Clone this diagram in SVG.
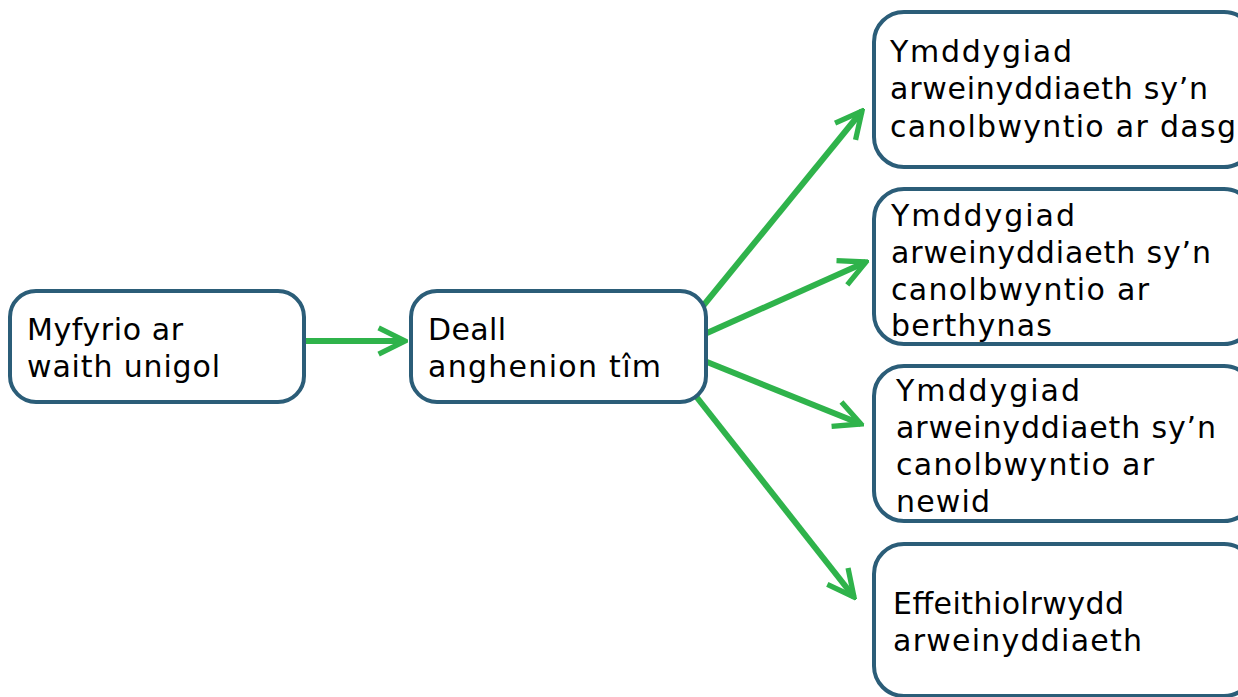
<svg xmlns="http://www.w3.org/2000/svg" width="1238" height="697" viewBox="0 0 1238 697">
<style>
.box{fill:#ffffff;stroke:#2b5d78;stroke-width:4}
.t{font-family:"DejaVu Sans","Liberation Sans",sans-serif;font-size:30px;fill:#000}
.c{stroke:#2fb34b;stroke-width:6;fill:none}
</style>
<defs>
<marker id="arr" viewBox="0 0 10 10" refX="9" refY="5" markerWidth="5.5" markerHeight="5.5" markerUnits="strokeWidth" orient="auto">
<path d="M1,1 L9,5 L1,9" fill="none" stroke="#2fb34b" stroke-width="1.6"/>
</marker>
</defs>
<rect width="1238" height="697" fill="#fff"/>
<g id="connectors">
<line class="c" x1="306" y1="341" x2="405" y2="341" marker-end="url(#arr)"/>
<line class="c" x1="703" y1="306" x2="862" y2="111" marker-end="url(#arr)"/>
<line class="c" x1="707" y1="333" x2="866" y2="262" marker-end="url(#arr)"/>
<line class="c" x1="707" y1="362" x2="861" y2="424" marker-end="url(#arr)"/>
<line class="c" x1="695" y1="395" x2="854" y2="597" marker-end="url(#arr)"/>
</g>
<g id="n1">
<rect class="box" x="10" y="291" width="294" height="111" rx="26"/>
<text class="t" x="27" y="340" textLength="156">Myfyrio ar</text>
<text class="t" x="27" y="377" textLength="193">waith unigol</text>
</g>
<g id="n2">
<rect class="box" x="411" y="291" width="295" height="111" rx="26"/>
<text class="t" x="428" y="340" textLength="78">Deall</text>
<text class="t" x="428" y="377" textLength="233">anghenion tîm</text>
</g>
<g id="n3">
<rect class="box" x="874" y="12" width="380" height="155" rx="30"/>
<text class="t" x="890" y="62" textLength="182">Ymddygiad</text>
<text class="t" x="890" y="99" textLength="318">arweinyddiaeth sy’n</text>
<text class="t" x="890" y="137" textLength="346">canolbwyntio ar dasg</text>
</g>
<g id="n4">
<rect class="box" x="874" y="189" width="380" height="155" rx="30"/>
<text class="t" x="891" y="226" textLength="184">Ymddygiad</text>
<text class="t" x="891" y="263" textLength="320">arweinyddiaeth sy’n</text>
<text class="t" x="891" y="300" textLength="258">canolbwyntio ar</text>
<text class="t" x="891" y="336" textLength="161">berthynas</text>
</g>
<g id="n5">
<rect class="box" x="874" y="366" width="380" height="155" rx="30"/>
<text class="t" x="896" y="401" textLength="184">Ymddygiad</text>
<text class="t" x="896" y="438" textLength="320">arweinyddiaeth sy’n</text>
<text class="t" x="896" y="475" textLength="258">canolbwyntio ar</text>
<text class="t" x="896" y="512" textLength="94">newid</text>
</g>
<g id="n6">
<rect class="box" x="874" y="544" width="380" height="152" rx="30"/>
<text class="t" x="893" y="614" textLength="231">Effeithiolrwydd</text>
<text class="t" x="893" y="651" textLength="249">arweinyddiaeth</text>
</g>
</svg>
